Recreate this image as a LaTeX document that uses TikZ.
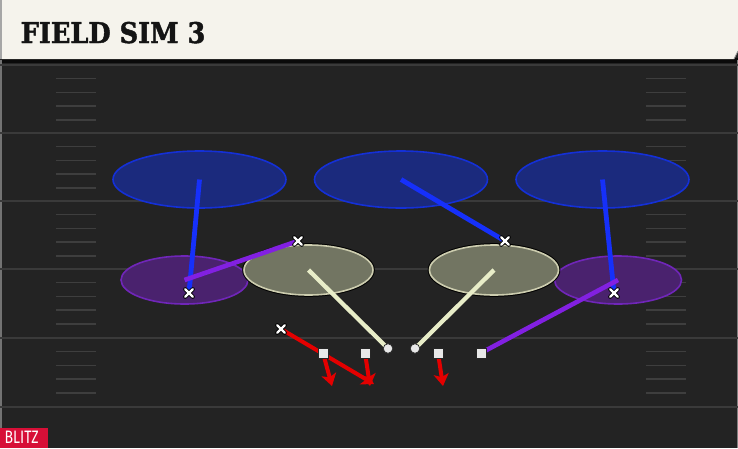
\documentclass[tikz,border=0pt]{standalone}
\usepackage{fontspec}
\newfontfamily\titlefont[FakeBold=1.6]{DejaVu Serif}
\newfontfamily\tagfont{Fira Sans}
\usetikzlibrary{arrows.meta,shapes.geometric}
\definecolor{fieldbg}{RGB}{35,35,35}
\definecolor{yardc}{RGB}{58,58,58}
\definecolor{hashc}{RGB}{62,62,62}
\definecolor{cream}{RGB}{245,243,236}
\definecolor{blueline}{RGB}{22,48,250}
\definecolor{purpline}{RGB}{130,32,225}
\definecolor{khakiline}{RGB}{232,237,200}
\definecolor{redline}{RGB}{228,0,0}
\definecolor{bluezf}{RGB}{27,42,125}
\definecolor{bluezd}{RGB}{20,48,215}
\definecolor{purpzf}{RGB}{74,34,110}
\definecolor{purpzd}{RGB}{112,38,185}
\definecolor{khakizf}{RGB}{114,117,98}
\definecolor{khakizd}{RGB}{205,205,175}
\definecolor{plyr}{RGB}{232,232,232}
\definecolor{blitzc}{RGB}{215,15,55}
\tikzset{
  yard/.style={draw=yardc, line width=1.8pt},
  hash/.style={draw=hashc, line width=1.4pt},
  zoneblue/.style={ellipse, draw=bluezd, fill=bluezf, line width=1.6pt, minimum width=173pt, minimum height=57pt, inner sep=0pt},
  zonepurp/.style={ellipse, draw=purpzd, fill=purpzf, line width=1.6pt, minimum width=127pt, minimum height=48pt, inner sep=0pt},
  zonekhaki/.style={ellipse, draw=khakizd, fill=khakizf, line width=1.6pt, minimum width=129pt, minimum height=50pt, inner sep=0pt,
    preaction={draw=black, line width=3.6pt}},
  bluel/.style={draw=blueline, line width=4.8pt},
  purpl/.style={draw=purpline, line width=4.6pt},
  khakil/.style={draw=khakiline, line width=4.3pt},
  redl/.style={draw=redline, line width=4pt, -{Stealth[length=12pt,width=15pt,inset=3pt]}},
  sqplayer/.style={rectangle, fill=plyr, draw=black!85, line width=0.9pt, minimum size=10pt, inner sep=0pt},
  circplayer/.style={circle, fill=plyr, draw=black!85, line width=0.7pt, minimum size=9.5pt, inner sep=0pt},
  xcross/.pic={
    \draw[black, line width=4pt, line cap=round] (-3.8,-3.8) -- (3.8,3.8) (-3.8,3.8) -- (3.8,-3.8);
    \draw[white, line width=2.4pt, line cap=round] (-3.8,-3.8) -- (3.8,3.8) (-3.8,3.8) -- (3.8,-3.8);
  }
}
\begin{document}
\begin{tikzpicture}[x=1pt,y=-1pt]
\useasboundingbox (0,0) rectangle (738,448);
% field
\fill[fieldbg] (0,0) rectangle (738,448);
\fill[black!70!fieldbg] (0,58) rectangle (738,63);
\draw[black!55, line width=1.6pt] (1,60) -- (1,448);
\draw[black!50, line width=1pt] (737.5,60) -- (737.5,448);
% yard lines
\foreach \y in {65,133,201,269,338,407} \draw[yard] (0,\y) -- (738,\y);
% hash marks
\foreach \b in {65,133,201,269,338} {
  \foreach \k in {1,2,3,4} {
    \draw[hash] (56,\b+13.7*\k) -- (96,\b+13.7*\k);
    \draw[hash] (646,\b+13.7*\k) -- (686,\b+13.7*\k);
  }
}
% title bar
\fill[cream] (0,0) -- (738,0) -- (738,51) -- (734,59) -- (0,59) -- cycle;
\fill[black!35] (0,0) rectangle (2.2,59);
\draw[black!45, line width=0.8pt] (734,59) -- (738,51);
\node[anchor=base west, inner sep=0pt, text=black!92] (title) at (20.5,43)
  {\scalebox{0.9}[1]{\titlefont\bfseries\fontsize{28.5}{30}\selectfont FIELD SIM 3}};
% zones
\node[zoneblue] (zb1) at (199.5,179.5) {};
\node[zoneblue] (zb2) at (401,179.5) {};
\node[zoneblue] (zb3) at (602.5,179.5) {};
\node[zonepurp] (zp1) at (184.5,280) {};
\node[zonepurp] (zp2) at (618,280) {};
\node[zonekhaki] (zk1) at (308.5,270) {};
\node[zonekhaki] (zk2) at (494,270) {};
% player positions
\coordinate (xa) at (189,293);
\coordinate (xb) at (298,241);
\coordinate (xc) at (505,241);
\coordinate (xd) at (614,293);
\coordinate (xe) at (281,329);
\node[circplayer] (ca) at (388,348.5) {};
\node[circplayer] (cb) at (415,348.5) {};
\node[sqplayer] (sa) at (323,353) {};
\node[sqplayer] (sb) at (365,353) {};
\node[sqplayer] (sc) at (438,353) {};
\node[sqplayer] (sd) at (481,353) {};
\coordinate (ea) at (332,386);
\coordinate (eb) at (374,384);
\coordinate (ec) at (370,386);
\coordinate (ed) at (443,386);
% routes / drops
\draw[bluel] (zb1.center) -- (xa);
\draw[purpl] (zp1.center) -- (xb);
\draw[khakil] (zk1.center) -- (ca.center);
\draw[bluel] (zb2.center) -- (xc);
\draw[khakil] (zk2.center) -- (cb.center);
\draw[bluel] (zb3.center) -- (xd);
\draw[purpl] (zp2.center) -- (sd.center);
\draw[redl] (xe) -- (eb);
\draw[redl] (sa.center) -- (ea);
\draw[redl] (sb.center) -- (ec);
\draw[redl] (sc.center) -- (ed);
% players on top
\node[circplayer] at (ca) {};
\node[circplayer] at (cb) {};
\node[sqplayer] at (sa) {};
\node[sqplayer] at (sb) {};
\node[sqplayer] at (sc) {};
\node[sqplayer] at (sd) {};
\pic at (xa) {xcross};
\pic at (xb) {xcross};
\pic at (xc) {xcross};
\pic at (xd) {xcross};
\pic at (xe) {xcross};
% blitz tag
\fill[blitzc] (0,427.5) rectangle (48,448);
\node[anchor=base west, inner sep=0pt, text=white] (blitz) at (4.5,443)
  {\scalebox{0.78}[1]{\tagfont\fontsize{18}{19}\selectfont BLITZ}};
\end{tikzpicture}
\end{document}
